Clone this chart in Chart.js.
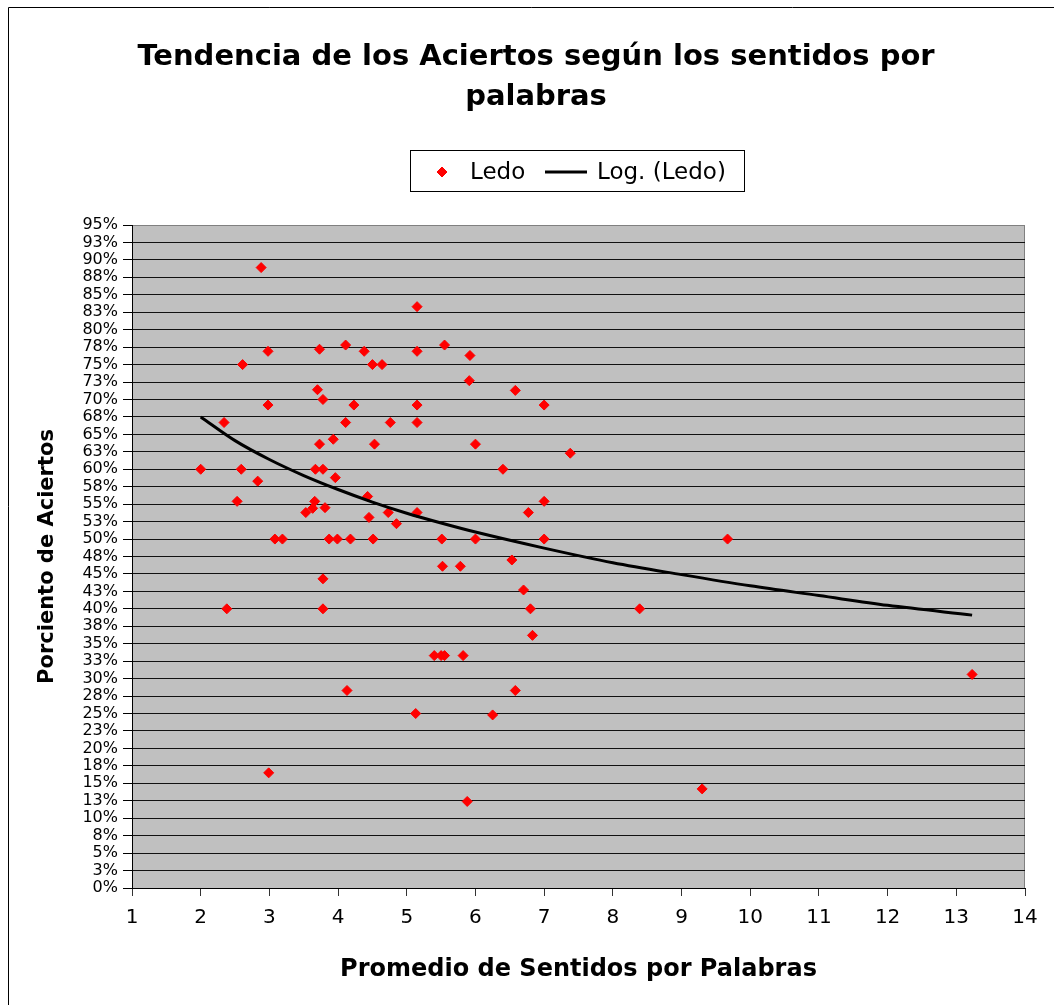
<!DOCTYPE html>
<html>
<head>
<meta charset="utf-8">
<script src="https://cdn.jsdelivr.net/npm/chart.js@4"></script>
<style>
  html, body { margin: 0; padding: 0; background: #fff; }
  canvas { display: block; }
</style>
</head>
<body>
<canvas id="aciertosChart" width="1054" height="1005"></canvas>
<script>
// Promedio de sentidos por palabra (x) y porciento de aciertos (y)
const senseAvg = [
  2.88, 5.15, 2.98, 3.73, 4.11, 4.38, 5.15, 5.55, 2.61, 4.50,
  4.64, 3.70, 3.78, 2.98, 4.23, 5.15, 2.34, 4.11, 4.76, 5.15,
  3.73, 3.93, 4.53, 2.00, 2.59, 3.67, 3.78, 2.83, 3.96, 2.53,
  3.66, 3.63, 3.53, 3.81, 4.43, 4.45, 4.73, 4.85, 5.15, 3.08,
  3.19, 3.87, 3.99, 4.18, 4.51, 5.51, 5.52, 3.78, 2.38, 3.78,
  5.40, 5.50, 5.55, 4.13, 5.13, 2.99, 5.92, 5.91, 6.58, 7.00,
  6.00, 7.38, 6.40, 7.00, 6.77, 6.00, 7.00, 9.67, 5.78, 6.53,
  6.70, 6.80, 8.39, 6.83, 5.82, 6.58, 6.25, 5.88, 9.30, 13.23
];
const hitRate = [
  0.889, 0.833, 0.769, 0.772, 0.778, 0.769, 0.769, 0.778, 0.750, 0.750,
  0.750, 0.714, 0.700, 0.692, 0.692, 0.692, 0.667, 0.667, 0.667, 0.667,
  0.636, 0.643, 0.636, 0.600, 0.600, 0.600, 0.600, 0.583, 0.588, 0.554,
  0.554, 0.544, 0.538, 0.545, 0.561, 0.531, 0.538, 0.522, 0.538, 0.500,
  0.500, 0.500, 0.500, 0.500, 0.500, 0.500, 0.461, 0.443, 0.400, 0.400,
  0.333, 0.333, 0.333, 0.283, 0.250, 0.165, 0.763, 0.727, 0.713, 0.692,
  0.636, 0.623, 0.600, 0.554, 0.538, 0.500, 0.500, 0.500, 0.461, 0.470,
  0.427, 0.400, 0.400, 0.362, 0.333, 0.283, 0.248, 0.124, 0.142, 0.306
];

// Línea de tendencia logarítmica
const trendX = [2.0, 2.5, 3.0, 3.5, 4.0, 4.5, 5.0, 5.5, 6.0, 7.0, 8.0, 9.0, 10.0, 11.0, 12.0, 13.23];
const trendY = [0.675, 0.641, 0.614, 0.591, 0.571, 0.553, 0.537, 0.523, 0.510, 0.487, 0.466, 0.449, 0.433, 0.419, 0.405, 0.391];

const xTickLabels = ["1", "2", "3", "4", "5", "6", "7", "8", "9", "10", "11", "12", "13", "14"];
const yTickLabels = [
  "0%", "3%", "5%", "8%", "10%", "13%", "15%", "18%", "20%", "23%",
  "25%", "28%", "30%", "33%", "35%", "38%", "40%", "43%", "45%", "48%",
  "50%", "53%", "55%", "58%", "60%", "63%", "65%", "68%", "70%", "73%",
  "75%", "78%", "80%", "83%", "85%", "88%", "90%", "93%", "95%"
];

const FONT = "'DejaVu Sans'";
Chart.defaults.font.family = FONT;
Chart.defaults.color = "#000";

// fondo blanco, marco exterior y área de trazado gris
const frame = {
  id: "frame",
  beforeDraw(chart) {
    const { ctx, chartArea: a } = chart;
    ctx.save();
    ctx.fillStyle = "#fff";
    ctx.fillRect(0, 0, chart.width, chart.height);
    ctx.strokeStyle = "#000";
    ctx.lineWidth = 1;
    ctx.beginPath();
    ctx.moveTo(8.5, chart.height);
    ctx.lineTo(8.5, 7.5);
    ctx.lineTo(chart.width, 7.5);
    ctx.stroke();
    ctx.fillStyle = "#c0c0c0";
    ctx.fillRect(a.left, a.top, a.right - a.left, a.bottom - a.top);
    ctx.strokeStyle = "#808080";
    ctx.beginPath();
    ctx.moveTo(a.left, a.top + 0.5);
    ctx.lineTo(a.right - 0.5, a.top + 0.5);
    ctx.lineTo(a.right - 0.5, a.bottom);
    ctx.stroke();
    ctx.restore();
  },
};

// leyenda con recuadro, como en Excel
const legendBox = {
  id: "legendBox",
  afterDraw(chart) {
    const { ctx } = chart;
    const trend = chart.data.datasets[0];
    const pts = chart.data.datasets[1];
    const cy = 172;
    ctx.save();
    ctx.fillStyle = "#fff";
    ctx.fillRect(410, 150, 334, 41);
    ctx.strokeStyle = "#000";
    ctx.lineWidth = 1;
    ctx.strokeRect(410.5, 150.5, 334, 41);

    ctx.fillStyle = pts.backgroundColor;
    ctx.strokeStyle = pts.borderColor;
    Chart.helpers.drawPoint(ctx, { pointStyle: pts.pointStyle, radius: 5, borderWidth: 1, rotation: 0 }, 442, cy);

    ctx.strokeStyle = trend.borderColor;
    ctx.lineWidth = 3;
    ctx.beginPath();
    ctx.moveTo(545, cy);
    ctx.lineTo(587, cy);
    ctx.stroke();

    ctx.fillStyle = "#000";
    ctx.font = "23px " + FONT;
    ctx.textBaseline = "middle";
    ctx.fillText(pts.label, 470, cy + 1);
    ctx.fillText(trend.label, 597, cy + 1);
    ctx.restore();
  },
};

new Chart(document.getElementById("aciertosChart"), {
  type: "scatter",
  data: {
    datasets: [
      {
        label: "Log. (Ledo)",
        data: trendX.map((x, i) => ({ x, y: trendY[i] })),
        showLine: true,
        borderColor: "#000",
        borderWidth: 3,
        pointRadius: 0,
        cubicInterpolationMode: "monotone",
        order: 0,
      },
      {
        label: "Ledo",
        data: senseAvg.map((x, i) => ({ x, y: hitRate[i] })),
        pointStyle: "rectRot",
        pointRadius: 5,
        pointBorderWidth: 1,
        backgroundColor: "#ff0000",
        borderColor: "#ff0000",
        order: 1,
      },
    ],
  },
  options: {
    responsive: false,
    animation: false,
    devicePixelRatio: 1,
    layout: { padding: { left: 47, right: 29, top: 0, bottom: 0 } },
    plugins: {
      legend: { display: false },
      tooltip: { enabled: false },
      title: {
        display: true,
        text: ["Tendencia de los Aciertos según los sentidos por", "palabras"],
        font: { size: 29, weight: "bold", lineHeight: "40px" },
        color: "#000",
        padding: { top: 37, bottom: 108 },
      },
    },
    scales: {
      x: {
        type: "linear",
        min: 1,
        max: 14,
        afterFit(scale) { scale.height = 117; },
        border: { color: "#000", width: 1 },
        grid: { drawOnChartArea: false, drawTicks: true, tickLength: 8, tickColor: "#333" },
        ticks: {
          stepSize: 1,
          padding: 10,
          maxRotation: 0,
          autoSkip: false,
          font: { size: 20, lineHeight: 1.2 },
          callback: (v, i) => xTickLabels[i],
        },
        title: {
          display: true,
          text: "Promedio de Sentidos por Palabras",
          font: { size: 24, weight: "bold", lineHeight: 1.2 },
          padding: { top: 0, bottom: 20.6 },
        },
      },
      y: {
        type: "linear",
        min: 0,
        max: 0.95,
        afterFit(scale) { scale.width = 85; },
        border: { color: "#000", width: 1 },
        grid: {
          color: (c) => (c.tick && c.tick.value >= 0.95 ? "#808080" : "#111"),
          lineWidth: 1,
          drawTicks: true,
          tickLength: 9,
          tickColor: "#000",
        },
        ticks: {
          stepSize: 0.025,
          padding: 5,
          autoSkip: false,
          font: { size: 16, lineHeight: 1 },
          callback: (v, i) => yTickLabels[i],
        },
        title: {
          display: true,
          text: "Porciento de Aciertos",
          font: { size: 21, weight: "bold", lineHeight: 1.2 },
          padding: { top: -11.6, bottom: 0 },
        },
      },
    },
  },
  plugins: [frame, legendBox],
});
</script>
</body>
</html>
